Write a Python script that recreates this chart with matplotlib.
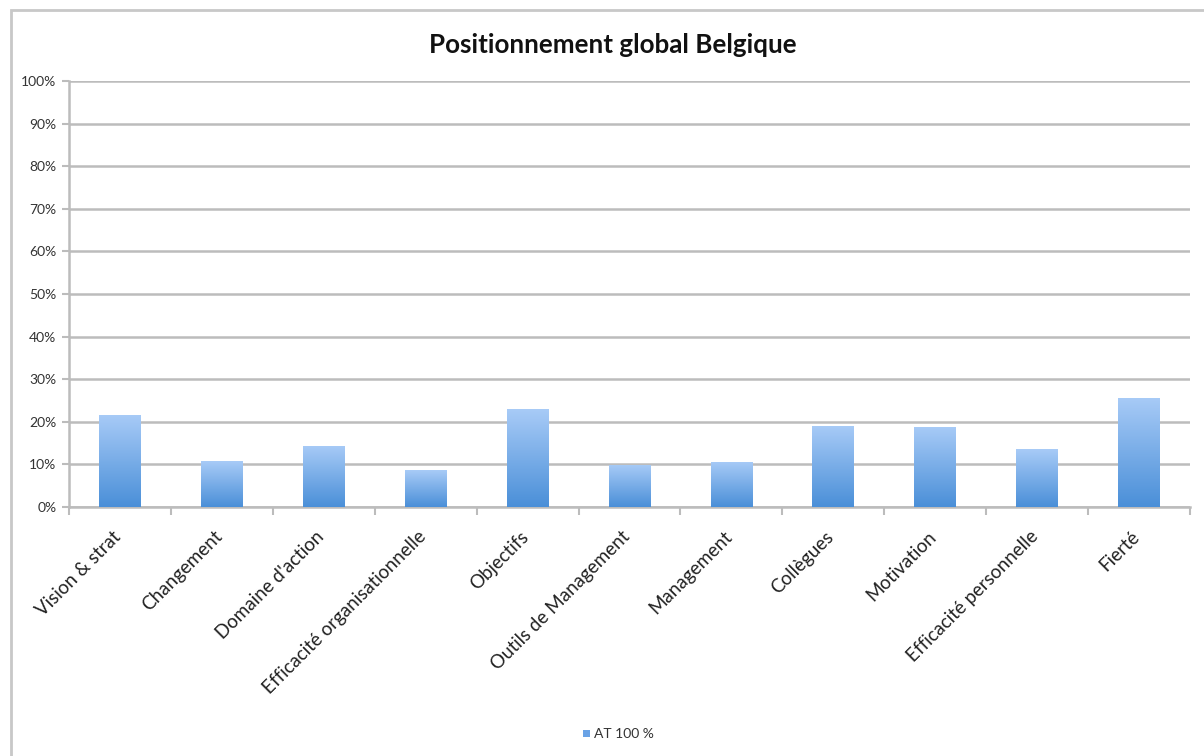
import matplotlib
matplotlib.use("Agg")
import matplotlib.pyplot as plt
import numpy as np
from matplotlib.patches import Rectangle
from matplotlib.colors import LinearSegmentedColormap
from matplotlib.transforms import ScaledTranslation

categories = ["Vision & strat", "Changement", "Domaine d'action",
              "Efficacité organisationnelle", "Objectifs", "Outils de Management",
              "Management", "Collègues", "Motivation", "Efficacité personnelle", "Fierté"]
values = [21.7, 10.7, 14.4, 8.6, 23.0, 9.9, 10.6, 19.1, 18.8, 13.6, 25.6]
series_name = "AT 100 %"
title = "Positionnement global Belgique"
yticks = list(range(0, 101, 10))
ytick_labels = [f"{v}%" for v in yticks]

plt.rcParams['font.family'] = ['Lato', 'DejaVu Sans']

W, H = 1204, 756
fig = plt.figure(figsize=(W / 100, H / 100), dpi=100)
fig.patch.set_facecolor("white")

# outer chart frame
fig.patches.append(Rectangle((11 / W, -0.1), 1.2, 1 - 10 / H + 0.1, transform=fig.transFigure,
                             fill=False, edgecolor="#c8c8c8", linewidth=2))

ax = fig.add_axes([69 / W, 1 - 507 / H, (1190 - 69) / W, (507 - 81) / H])
x = np.arange(len(categories))
bars = ax.bar(x, values, width=0.41, color="#7aaee8", zorder=2, linewidth=0)

cmap = LinearSegmentedColormap.from_list("g", ["#4a8fd8", "#a8cbf7"])
grad = np.linspace(0, 1, 256).reshape(-1, 1)
for b in bars:
    bx, by = b.get_x(), b.get_y()
    im = ax.imshow(grad, cmap=cmap, aspect="auto", origin="lower",
                   extent=[bx, bx + b.get_width(), by, by + b.get_height()], zorder=3)
    im.set_clip_path(b)

ax.set_xlim(-0.5, len(categories) - 0.5)
ax.set_ylim(0, 100)
ax.set_yticks(yticks)
ax.set_yticklabels(ytick_labels, fontsize=10, color="#333333")
ax.yaxis.grid(True, color="#bcbcbc", linewidth=1.8, zorder=0)
ax.set_axisbelow(True)

ax.set_xticks(x)
ax.set_xticklabels(categories, rotation=45, ha="right", rotation_mode="anchor",
                   fontsize=13.5, color="#222222")
ax.tick_params(axis="x", length=0, pad=15)
shift = ScaledTranslation(-8 / 100, 0, fig.dpi_scale_trans)
for lab in ax.get_xticklabels():
    lab.set_transform(lab.get_transform() + shift)
ax.set_xticks(np.arange(-0.5, len(categories), 1), minor=True)
ax.tick_params(axis="x", which="minor", length=6, width=1.5, color="#bcbcbc", direction="out")
ax.tick_params(axis="y", length=5, width=1.5, color="#bcbcbc", pad=4)

for s in ["top", "right"]:
    ax.spines[s].set_visible(False)
for s in ["left", "bottom"]:
    ax.spines[s].set_color("#bcbcbc")
    ax.spines[s].set_linewidth(1.8)

fig.text(613 / W, 1 - 45 / H, title, ha="center", va="center", fontsize=18.7,
         fontweight="bold", color="#111111")

# legend
fig.patches.append(Rectangle((583 / W, 1 - 737 / H), 7 / W, 7 / H, transform=fig.transFigure,
                             facecolor="#6aa3e6", edgecolor="none"))
fig.text(594 / W, 1 - 734 / H, series_name, ha="left", va="center", fontsize=10, color="#333333")

fig.savefig("out.png", dpi=100)
